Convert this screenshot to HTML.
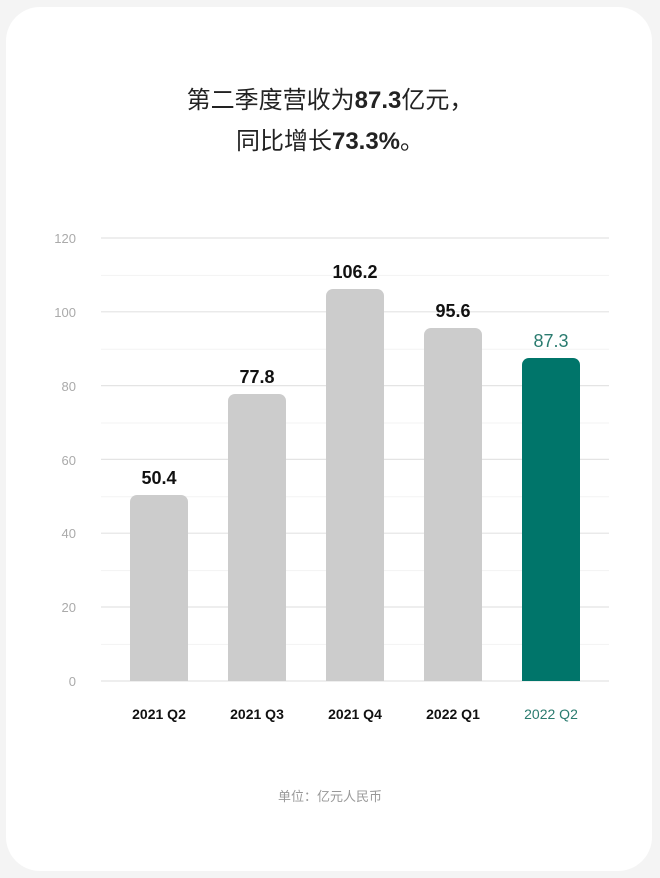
<!DOCTYPE html>
<html><head><meta charset="utf-8"><style>
html,body{margin:0;padding:0;background:#f4f4f4;}
body{width:660px;height:878px;position:relative;overflow:hidden;}
.card{position:absolute;left:6px;top:7px;width:646px;height:864px;background:#fff;border-radius:34px;}
svg{position:absolute;left:0;top:0;}
</style></head><body>
<div class="card"></div>
<svg width="660" height="878" xmlns="http://www.w3.org/2000/svg" font-family="Liberation Sans, Noto Sans CJK SC, sans-serif">
<g text-anchor="middle" font-size="24" fill="#222">
<text x="330" y="108">第二季度营收为<tspan font-weight="bold">87.3</tspan>亿元，</text>
<text x="330" y="149">同比增长<tspan font-weight="bold">73.3%</tspan>。</text>
</g>
<g stroke="#f3f3f3" stroke-width="1">
<line x1="101" x2="609" y1="275.4" y2="275.4"/><line x1="101" x2="609" y1="349.2" y2="349.2"/>
<line x1="101" x2="609" y1="423" y2="423"/><line x1="101" x2="609" y1="496.8" y2="496.8"/>
<line x1="101" x2="609" y1="570.6" y2="570.6"/><line x1="101" x2="609" y1="644.4" y2="644.4"/>
</g>
<g stroke="#e4e4e4" stroke-width="1.2">
<line x1="101" x2="609" y1="238" y2="238"/><line x1="101" x2="609" y1="311.8" y2="311.8"/>
<line x1="101" x2="609" y1="385.6" y2="385.6"/><line x1="101" x2="609" y1="459.4" y2="459.4"/>
<line x1="101" x2="609" y1="533.2" y2="533.2"/><line x1="101" x2="609" y1="607" y2="607"/>
<line x1="101" x2="609" y1="681" y2="681"/>
</g>
<g font-size="13" fill="#aaa" text-anchor="end">
<text x="76" y="243">120</text><text x="76" y="317">100</text><text x="76" y="391">80</text>
<text x="76" y="465">60</text><text x="76" y="538">40</text><text x="76" y="612">20</text><text x="76" y="686">0</text>
</g>
<g fill="#cccccc">
<path d="M130,681V502a7,7 0 0 1 7,-7H181a7,7 0 0 1 7,7V681Z"/>
<path d="M228,681V401a7,7 0 0 1 7,-7H279a7,7 0 0 1 7,7V681Z"/>
<path d="M326,681V296a7,7 0 0 1 7,-7H377a7,7 0 0 1 7,7V681Z"/>
<path d="M424,681V335a7,7 0 0 1 7,-7H475a7,7 0 0 1 7,7V681Z"/>
</g>
<path fill="#00756a" d="M522,681V365a7,7 0 0 1 7,-7H573a7,7 0 0 1 7,7V681Z"/>
<g font-size="18" font-weight="bold" fill="#111" text-anchor="middle">
<text x="159" y="484">50.4</text><text x="257" y="383">77.8</text>
<text x="355" y="278">106.2</text><text x="453" y="317">95.6</text>
</g>
<text x="551" y="347" font-size="18" fill="#2a7b6f" text-anchor="middle">87.3</text>
<g font-size="14" font-weight="bold" fill="#111" text-anchor="middle">
<text x="159" y="719">2021 Q2</text><text x="257" y="719">2021 Q3</text>
<text x="355" y="719">2021 Q4</text><text x="453" y="719">2022 Q1</text>
</g>
<text x="551" y="719" font-size="14" fill="#2a7b6f" text-anchor="middle">2022 Q2</text>
<text x="330" y="801" font-size="13" fill="#999" text-anchor="middle">单位：亿元人民币</text>
</svg>
</body></html>
